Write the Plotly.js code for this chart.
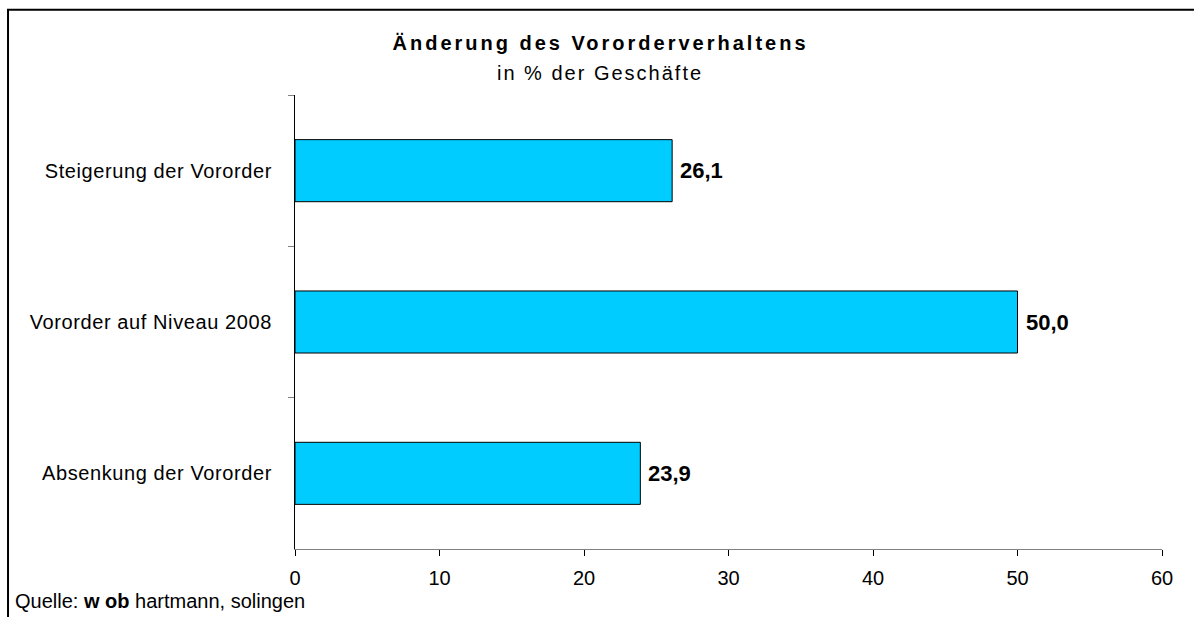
<!DOCTYPE html>
<html>
<head>
<meta charset="utf-8">
<script src="https://cdn.plot.ly/plotly-3.0.1.min.js"></script>
<style>
html,body{margin:0;padding:0;background:#fff;}
#chart{width:1194px;height:617px;}
#chart .ytick text{letter-spacing:0.6px;}
#chart g.annotation[data-index="0"] text{letter-spacing:3px;}
#chart g.annotation[data-index="1"] text{letter-spacing:2px;}
</style>
</head>
<body>
<div id="chart"></div>
<script>
var categories = ["Steigerung der Vororder", "Vororder auf Niveau 2008", "Absenkung der Vororder"];
var values = [26.1, 50.0, 23.9];
var xTickValues = [0, 10, 20, 30, 40, 50, 60];
var chartTitle = "Änderung des Vororderverhaltens";
var chartSubtitle = "in % der Geschäfte";
var sourceNote = "Quelle: <b>w ob</b> hartmann, solingen";

var font = "Liberation Sans, Arial, sans-serif";

function fmt(v) { return v.toFixed(1).replace(".", ","); }

var trace = {
  type: "bar",
  orientation: "h",
  y: categories,
  x: values,
  width: 0.41,
  marker: {color: "#00CCFF", line: {color: "#000000", width: 1}},
  hoverinfo: "none"
};

var annotations = [
  {xref: "paper", yref: "paper", x: 0.352, y: 1.114, text: "<b>" + chartTitle + "</b>",
   showarrow: false, xanchor: "center", yanchor: "middle", font: {family: font, size: 20, color: "#000000"}},
  {xref: "paper", yref: "paper", x: 0.352, y: 1.048, text: chartSubtitle,
   showarrow: false, xanchor: "center", yanchor: "middle", font: {family: font, size: 20, color: "#000000"}},
  {xref: "paper", yref: "paper", x: -0.3253, y: -0.114, text: sourceNote,
   showarrow: false, xanchor: "left", yanchor: "middle", font: {family: font, size: 20, color: "#000000"}}
];
for (var i = 0; i < categories.length; i++) {
  annotations.push({
    xref: "x", yref: "y", x: values[i], y: categories[i], text: "<b>" + fmt(values[i]) + "</b>",
    showarrow: false, xanchor: "left", yanchor: "middle", xshift: 6,
    font: {family: font, size: 22, color: "#000000"}
  });
}

var layout = {
  width: 1194,
  height: 617,
  margin: {l: 295, r: 32, t: 95, b: 68},
  paper_bgcolor: "#ffffff",
  plot_bgcolor: "#ffffff",
  showlegend: false,
  font: {family: font, size: 20, color: "#000000"},
  xaxis: {
    range: [0, 60],
    tickvals: xTickValues,
    ticks: "outside",
    ticklen: 6,
    tickcolor: "#000000",
    showline: true,
    linecolor: "#808080",
    linewidth: 1,
    showgrid: false,
    zeroline: false,
    ticklabelstandoff: 5,
    tickfont: {family: font, size: 20, color: "#000000"},
    fixedrange: true
  },
  yaxis: {
    type: "category",
    range: [2.5, -0.5],
    ticks: "outside",
    tickson: "boundaries",
    ticklen: 6,
    tickcolor: "#808080",
    showline: true,
    linecolor: "#000000",
    linewidth: 1,
    showgrid: false,
    zeroline: false,
    ticklabelstandoff: 18,
    tickfont: {family: font, size: 20, color: "#000000"},
    fixedrange: true
  },
  annotations: annotations,
  shapes: [
    {type: "path", xref: "paper", yref: "paper",
     path: "M -0.331,-0.3 L -0.331,1.188 L 1.2,1.188",
     line: {color: "#000000", width: 2}}
  ]
};

Plotly.newPlot("chart", [trace], layout, {displayModeBar: false, staticPlot: true});
</script>
</body>
</html>
